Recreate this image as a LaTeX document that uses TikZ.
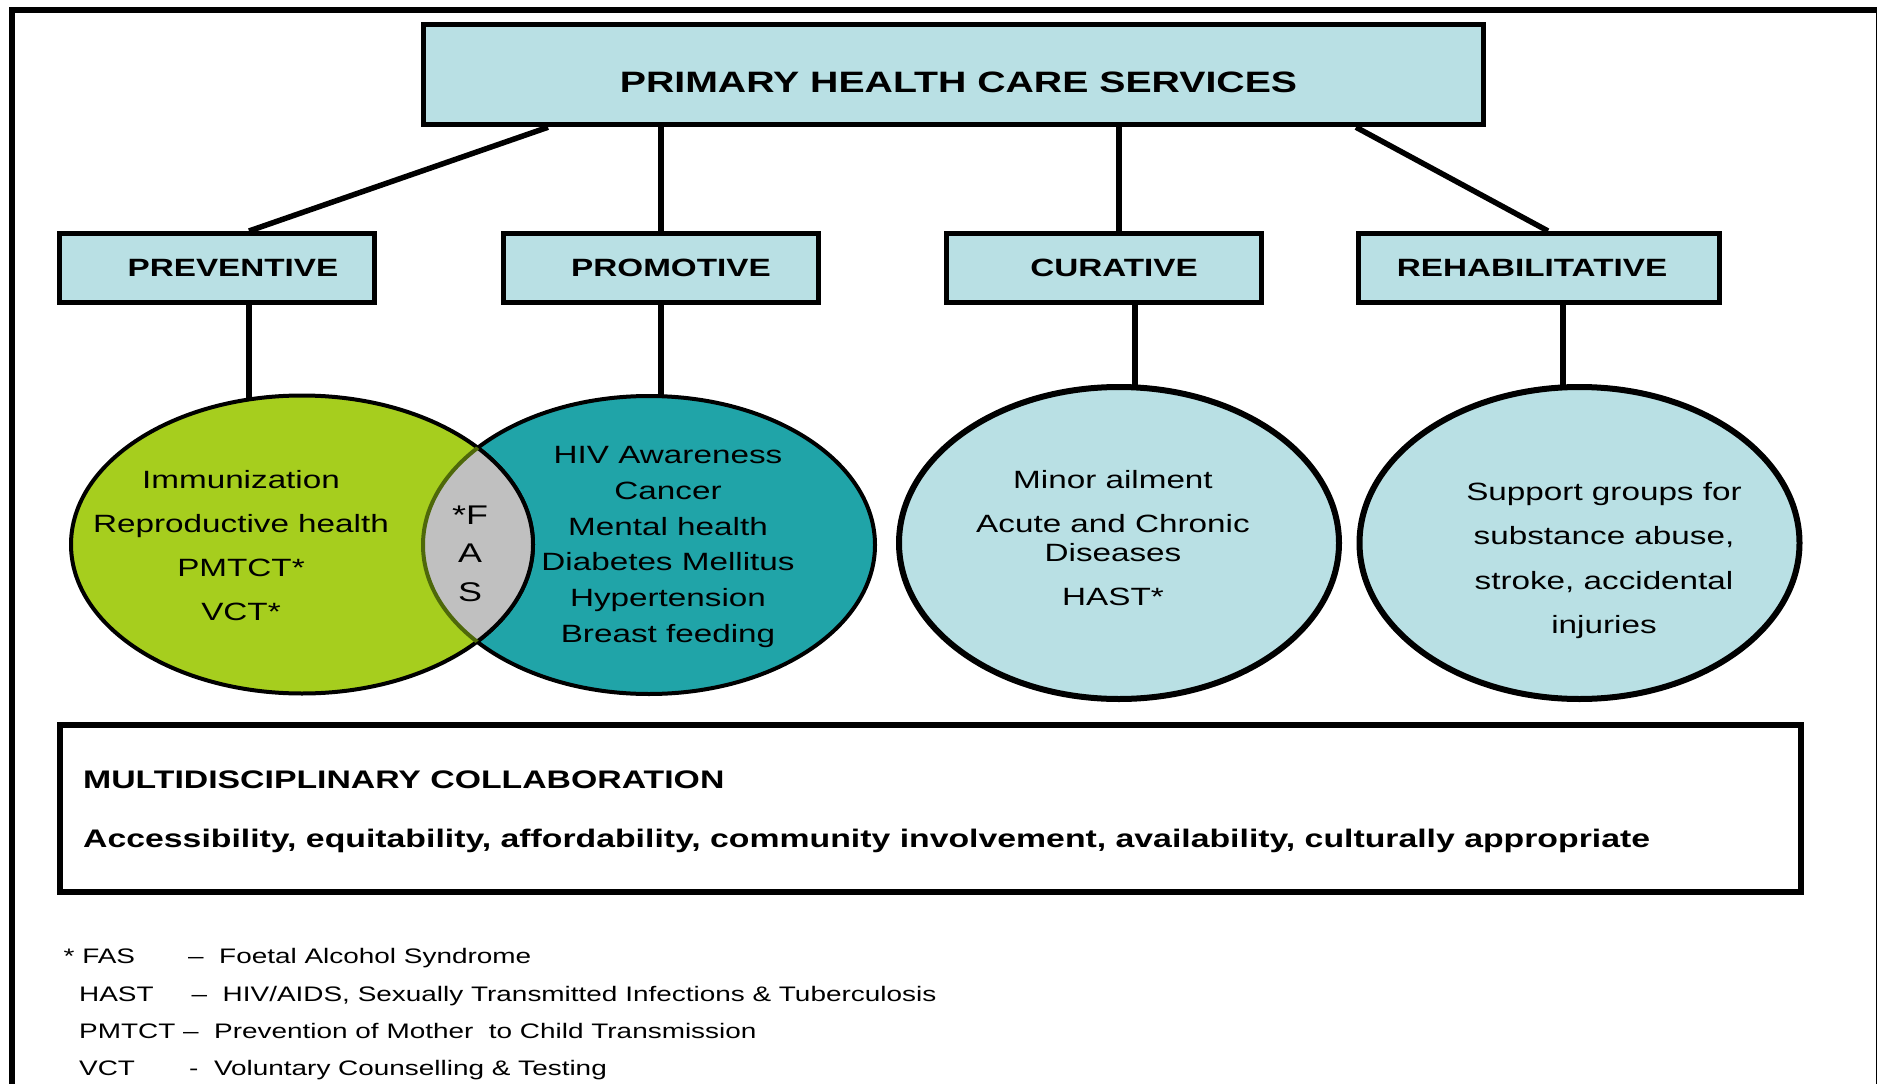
\documentclass[tikz,border=0pt]{standalone}
\usepackage{fontspec}
\setmainfont{Liberation Sans}[FakeStretch=1.33]
\usetikzlibrary{shapes.geometric,backgrounds}
\definecolor{boxblue}{RGB}{185,224,228}
\definecolor{vgreen}{RGB}{166,206,30}
\definecolor{tealc}{RGB}{32,164,168}
\definecolor{lensgray}{RGB}{192,192,192}
\definecolor{olivec}{RGB}{78,104,10}
\begin{document}
\begin{tikzpicture}[x=1pt,y=-1pt,
  mainbox/.style={draw, line width=5pt, fill=boxblue, inner sep=0pt,
    minimum width=1060pt, minimum height=100.5pt, text height=36.4pt, text depth=0pt,
    font=\fontsize{29.5}{35}\selectfont\bfseries},
  lvbox/.style={draw, line width=5pt, fill=boxblue, inner sep=0pt, minimum height=69pt,
    font=\fontsize{25}{30}\selectfont\bfseries},
  conn/.style={line width=5.5pt},
  ell/.style={ellipse, draw, inner sep=0pt},
  elltext/.style={align=center, inner sep=0pt},
  boldtxt/.style={anchor=base west, inner sep=0pt, font=\fontsize{25.4}{30}\selectfont\bfseries},
  legtxt/.style={anchor=base west, inner sep=0pt, font=\fontsize{21}{25}\selectfont}]
\useasboundingbox (0,0) rectangle (1877,1084);
\begin{scope}[on background layer]
  \fill[white] (0,0) rectangle (1877,1084);
\end{scope}
% outer frame
\draw[line width=6pt] (12,10) rectangle (1879,1100);

% top box and categories
\node[mainbox] (main) at (953.5,74.5) {\hspace*{10pt}PRIMARY HEALTH CARE SERVICES};
\node[lvbox, minimum width=315pt] (pv) at (217,268) {\hspace*{32pt}PREVENTIVE};
\node[lvbox, minimum width=315pt] (pm) at (661,268) {\hspace*{20pt}PROMOTIVE};
\node[lvbox, minimum width=315pt] (cu) at (1104,268) {\hspace*{20pt}CURATIVE};
\node[lvbox, minimum width=361pt] (rh) at (1539,268) {REHABILITATIVE\hspace*{14pt}};

% ellipses
\node[ell, fill=tealc, line width=4pt, minimum width=452pt, minimum height=298pt] (tell) at (649,545) {};
\node[ell, fill=vgreen, line width=4pt, minimum width=462pt, minimum height=298pt] (gell) at (302,544.5) {};
\begin{scope}
  \clip (302,544.5) ellipse [x radius=231pt, y radius=149pt];
  \fill[lensgray] (649,545) ellipse [x radius=226pt, y radius=149pt];
\end{scope}
\begin{scope}
  \clip (649,545) ellipse [x radius=226pt, y radius=149pt];
  \draw[line width=4pt] (302,544.5) ellipse [x radius=231pt, y radius=149pt];
\end{scope}
\begin{scope}
  \clip (302,544.5) ellipse [x radius=231pt, y radius=149pt];
  \draw[olivec, line width=4pt] (649,545) ellipse [x radius=226pt, y radius=149pt];
\end{scope}
\node[ell, fill=boxblue, line width=6pt, minimum width=440pt, minimum height=312pt] (cuell) at (1119,543) {};
\node[ell, fill=boxblue, line width=6pt, minimum width=440pt, minimum height=312pt] (rhell) at (1579.5,543) {};

% connectors
\coordinate (u1) at (548,0);  \coordinate (v1) at (249,0);
\coordinate (u2) at (661,0);  \coordinate (v2) at (661,0);
\coordinate (u3) at (1119,0); \coordinate (v3) at (1119,0);
\coordinate (u4) at (1356,0); \coordinate (v4) at (1548,0);
\coordinate (d1) at (249,430);
\coordinate (d2) at (661,430);
\coordinate (d3) at (1135,420);
\coordinate (d4) at (1563,420);
\begin{scope}[on background layer]
  \draw[conn] (main.south -| u1) -- (pv.north -| v1);
  \draw[conn] (main.south -| u2) -- (pm.north -| v2);
  \draw[conn] (main.south -| u3) -- (cu.north -| v3);
  \draw[conn] (main.south -| u4) -- (rh.north -| v4);
  \draw[conn] (pv.south -| d1) -- (d1);
  \draw[conn] (pm.south -| d2) -- (d2);
  \draw[conn] (cu.south -| d3) -- (d3);
  \draw[conn] (rh.south -| d4) -- (d4);
\end{scope}

% ellipse texts
\node[elltext, font=\fontsize{25}{44}\selectfont] (gtext) at (241,545.5)
  {Immunization\\Reproductive health\\PMTCT*\\VCT*};
\node[elltext, font=\fontsize{27}{38.5}\selectfont] (fas) at (470,553.5) {*F\\A\\S};
\node[elltext, font=\fontsize{25}{35.7}\selectfont] (ttext) at (668,547)
  {HIV Awareness\\Cancer\\Mental health\\Diabetes Mellitus\\Hypertension\\Breast feeding};
\node[elltext, font=\fontsize{25}{29}\selectfont] (cutext) at (1113,538.5)
  {Minor ailment\\[15pt]Acute and Chronic\\Diseases\\[15pt]HAST*};
\node[elltext, font=\fontsize{25}{44.3}\selectfont] (rhtext) at (1604,560.5)
  {Support groups for\\substance abuse,\\stroke, accidental\\injuries};

% bottom box
\node[draw, line width=6pt, minimum width=1741pt, minimum height=167pt, inner sep=0pt] (bottom) at (930.5,808.5) {};
\node[boldtxt] (multi) at (83,788) {MULTIDISCIPLINARY COLLABORATION};
\node[boldtxt] (access) at (83,847.3) {Accessibility, equitability, affordability, community involvement, availability, culturally appropriate};

% legend
\node[legtxt] (l1a) at (63.5,963.5) {* FAS};
\node[legtxt] (l1b) at (188,963.5) {–\ \ Foetal Alcohol Syndrome};
\node[legtxt] (l2a) at (79,1001) {HAST};
\node[legtxt] (l2b) at (191.5,1001) {–\ \ HIV/AIDS, Sexually Transmitted Infections \& Tuberculosis};
\node[legtxt] (l3a) at (79,1038) {PMTCT –\ \ Prevention of Mother\ \ to Child Transmission};
\node[legtxt] (l4a) at (79,1075.5) {VCT};
\node[legtxt] (l4b) at (189,1075.5) {-\ \ Voluntary Counselling \& Testing};
\end{tikzpicture}
\end{document}
